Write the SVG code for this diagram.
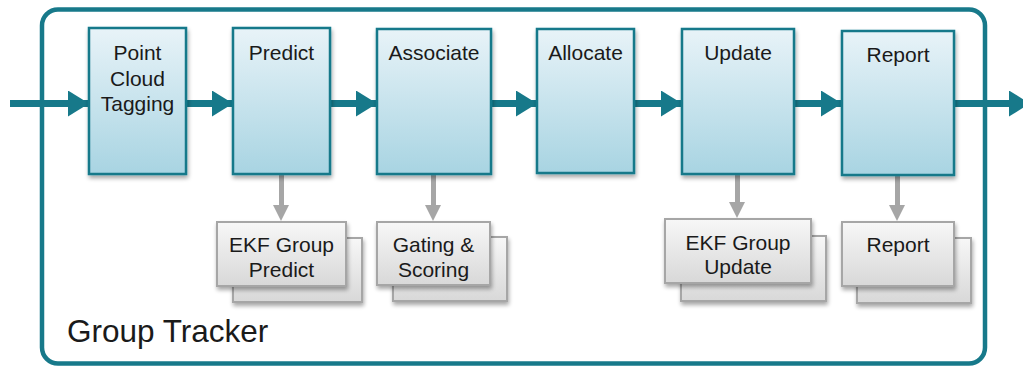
<svg xmlns="http://www.w3.org/2000/svg" width="1023" height="367" viewBox="0 0 1023 367">
<defs>
<linearGradient id="gBlue" x1="0" y1="0" x2="0" y2="1">
<stop offset="0" stop-color="#e8f3f8"/>
<stop offset="1" stop-color="#a8d4e2"/>
</linearGradient>
<linearGradient id="gGray" x1="0" y1="0" x2="0" y2="1">
<stop offset="0" stop-color="#f7f7f7"/>
<stop offset="1" stop-color="#d8d8d8"/>
</linearGradient>
<filter id="sh" x="-10%" y="-10%" width="130%" height="130%">
<feGaussianBlur in="SourceAlpha" stdDeviation="2"/>
<feOffset dx="1" dy="3"/>
<feComponentTransfer><feFuncA type="linear" slope="0.35"/></feComponentTransfer>
<feMerge><feMergeNode/><feMergeNode in="SourceGraphic"/></feMerge>
</filter>
<marker id="ah" markerUnits="userSpaceOnUse" markerWidth="22" markerHeight="26" refX="21" refY="13" orient="auto">
<path d="M0,0 L21,13 L0,26 Z" fill="#17798a"/>
</marker>
</defs>
<style>
.main{fill:url(#gBlue);stroke:#17798a;stroke-width:2.5;filter:url(#sh)}
.sub{fill:url(#gGray);stroke:#a6a6a6;stroke-width:2;filter:url(#sh)}
.t{font-family:"Liberation Sans",Arial,sans-serif;font-size:21px;fill:#1a1a1a;text-anchor:middle}
.flow{stroke:#17798a;stroke-width:7;fill:none}
</style>
<rect x="42" y="9.5" width="943" height="354" rx="16" fill="#ffffff" stroke="#17798a" stroke-width="4.5"/>
<text x="67" y="342" font-family="Liberation Sans, Arial, sans-serif" font-size="31.5" fill="#1a1a1a">Group Tracker</text>

<g id="connectors">
<line class="flow" x1="10" y1="103.5" x2="89" y2="103.5" marker-end="url(#ah)"/>
<line class="flow" x1="186" y1="103.5" x2="233" y2="103.5" marker-end="url(#ah)"/>
<line class="flow" x1="330" y1="103.5" x2="377" y2="103.5" marker-end="url(#ah)"/>
<line class="flow" x1="491" y1="103.5" x2="537" y2="103.5" marker-end="url(#ah)"/>
<line class="flow" x1="634" y1="103.5" x2="682" y2="103.5" marker-end="url(#ah)"/>
<line class="flow" x1="794" y1="103.5" x2="842" y2="103.5" marker-end="url(#ah)"/>
<line class="flow" x1="954" y1="103.5" x2="1030" y2="103.5" marker-end="url(#ah)"/>
<g fill="#a6a6a6">
<rect x="279" y="175" width="5" height="31"/><path d="M273,205 L289,205 L281,221 Z"/>
<rect x="431" y="175" width="5" height="31"/><path d="M425,205 L441,205 L433,221 Z"/>
<rect x="735" y="175" width="5" height="28"/><path d="M729,202 L745,202 L737,218 Z"/>
<rect x="895" y="176" width="5" height="30"/><path d="M889,205 L905,205 L897,221 Z"/>
</g>
</g>

<g id="n-pct"><rect class="main" x="89" y="28" width="97" height="146"/>
<text class="t" x="137.5" y="60">Point</text><text class="t" x="137.5" y="86">Cloud</text><text class="t" x="137.5" y="111">Tagging</text></g>
<g id="n-predict"><rect class="main" x="233" y="28" width="97" height="146"/><text class="t" x="281.5" y="60">Predict</text></g>
<g id="n-associate"><rect class="main" x="377" y="29" width="114" height="145"/><text class="t" x="434" y="60">Associate</text></g>
<g id="n-allocate"><rect class="main" x="537" y="29" width="97" height="144"/><text class="t" x="585.5" y="60">Allocate</text></g>
<g id="n-update"><rect class="main" x="682" y="29" width="112" height="145"/><text class="t" x="738" y="60">Update</text></g>
<g id="n-report"><rect class="main" x="842" y="31" width="112" height="144"/><text class="t" x="898" y="62">Report</text></g>

<g id="s-ekfp"><rect class="sub" x="233" y="238" width="129" height="64"/><rect class="sub" x="217" y="222" width="129" height="64"/>
<text class="t" x="281.5" y="252">EKF Group</text><text class="t" x="281.5" y="277">Predict</text></g>
<g id="s-gating"><rect class="sub" x="393" y="237" width="114" height="64"/><rect class="sub" x="377" y="222" width="113" height="63"/>
<text class="t" x="433.5" y="252">Gating &amp;</text><text class="t" x="433.5" y="277">Scoring</text></g>
<g id="s-ekfu"><rect class="sub" x="681" y="236" width="145" height="65"/><rect class="sub" x="665" y="219" width="146" height="64"/>
<text class="t" x="738" y="250">EKF Group</text><text class="t" x="738" y="274">Update</text></g>
<g id="s-report"><rect class="sub" x="857" y="238" width="114" height="65"/><rect class="sub" x="842" y="222" width="112" height="64"/>
<text class="t" x="898" y="252">Report</text></g>
</svg>
